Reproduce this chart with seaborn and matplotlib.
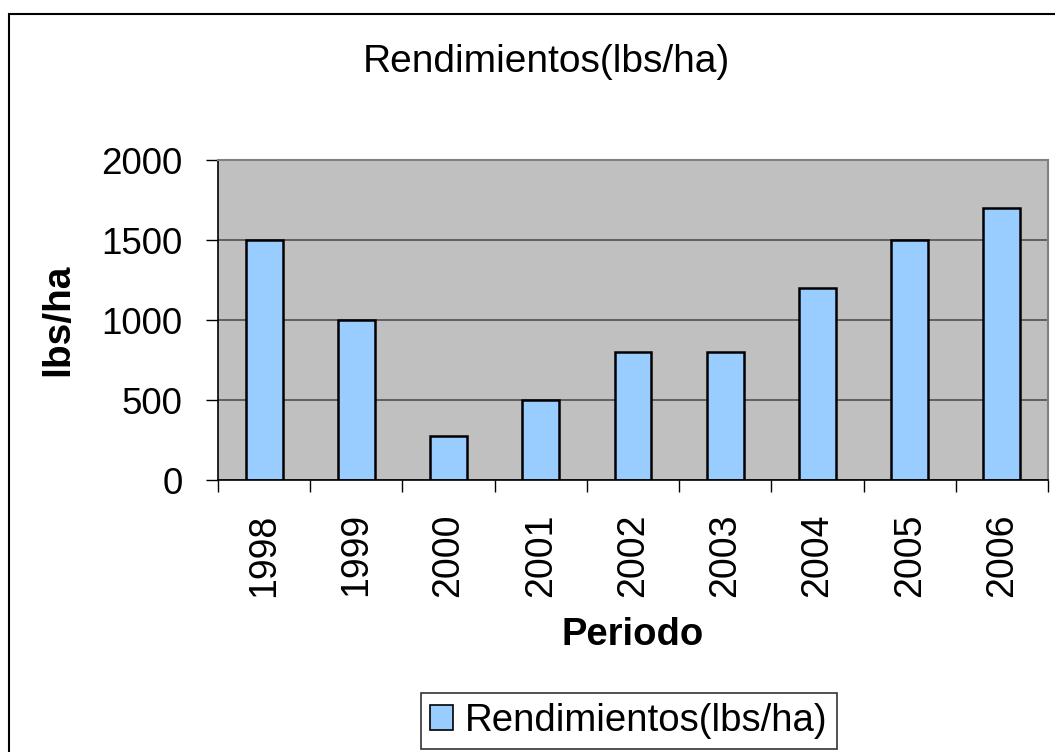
import numpy as np
import pandas as pd
import matplotlib
matplotlib.use("Agg")
import matplotlib.pyplot as plt
import matplotlib.patches as mpatches
from matplotlib.ticker import FixedLocator
import seaborn as sns

# datos del gráfico
periodos = ["1998", "1999", "2000", "2001", "2002", "2003", "2004", "2005", "2006"]
rendimientos = [1500, 1000, 275, 500, 800, 800, 1200, 1500, 1700]
y_ticks = [0, 500, 1000, 1500, 2000]

df = pd.DataFrame({"Periodo": periodos, "Rendimientos(lbs/ha)": rendimientos})

sns.set_style("white")
plt.rcParams["font.family"] = ["Liberation Sans", "DejaVu Sans"]
plt.rcParams["text.color"] = "black"
plt.rcParams["axes.labelcolor"] = "black"
plt.rcParams["xtick.color"] = "black"
plt.rcParams["ytick.color"] = "black"

W, H = 1055, 752
fig = plt.figure(figsize=(W / 100, H / 100), dpi=100)
ax = fig.add_axes([218 / W, 1 - 480 / H, (1048 - 218) / W, 320 / H])

# borde exterior del gráfico
fig.patches.append(
    mpatches.Rectangle((8.5 / W, -0.1), 2, 1 - 13.5 / H + 0.1, transform=fig.transFigure,
                       fill=False, edgecolor="black", linewidth=1.5)
)

sns.barplot(data=df, x="Periodo", y="Rendimientos(lbs/ha)", color="#99CCFF",
            saturation=1, width=0.4, edgecolor="black", linewidth=1.8, ax=ax,
            legend=False)

ax.set_facecolor("#C0C0C0")
ax.set_axisbelow(True)
ax.set_ylim(0, 2000)
ax.set_xlim(-0.5, len(periodos) - 0.5)
ax.set_yticks(y_ticks)
ax.yaxis.grid(True, color="#505050", linewidth=1.2)
ax.xaxis.grid(False)

for s in ["left", "bottom"]:
    ax.spines[s].set_color("black")
    ax.spines[s].set_linewidth(1.2)
for s in ["top", "right"]:
    ax.spines[s].set_color("#808080")
    ax.spines[s].set_linewidth(1.5)

# marcas del eje x entre categorías
ax.xaxis.set_minor_locator(FixedLocator(np.arange(-0.5, len(periodos), 1.0)))
ax.tick_params(axis="x", which="major", length=0, pad=24, labelsize=27,
               labelrotation=90, labelcolor="black")
ax.tick_params(axis="x", which="minor", length=8.6, width=1, color="black",
               direction="out", bottom=True)
ax.tick_params(axis="y", length=8.6, width=1, color="black", direction="out",
               left=True, pad=17, labelsize=26.5, labelcolor="black")
for lbl in ax.get_xticklabels():
    lbl.set_va("top")

ax.set_xlabel("Periodo", fontsize=27.5, fontweight="bold", va="center", color="black")
ax.xaxis.set_label_coords((633 - 218) / 830, (480 - 635) / 320)
ax.set_ylabel("lbs/ha", fontsize=28, fontweight="bold", va="center", color="black")
ax.yaxis.set_label_coords((58 - 218) / 830, 0.5)

fig.text(546 / W, 1 - 62 / H, "Rendimientos(lbs/ha)", fontsize=28,
         ha="center", va="center", color="black")

handle = mpatches.Patch(facecolor="#99CCFF", edgecolor="black", linewidth=1.2)
leg = fig.legend([handle], ["Rendimientos(lbs/ha)"], loc="center",
                 bbox_to_anchor=(629 / W, 1 - 721 / H), fontsize=27.6,
                 frameon=True, fancybox=False, shadow=False,
                 handlelength=0.6, handleheight=0.6, handletextpad=0.3,
                 borderpad=0.25, borderaxespad=0)
leg.get_frame().set_edgecolor("black")
leg.get_frame().set_linewidth(1.2)
for t in leg.get_texts():
    t.set_color("black")

fig.savefig("out.png", dpi=100, facecolor="white")
